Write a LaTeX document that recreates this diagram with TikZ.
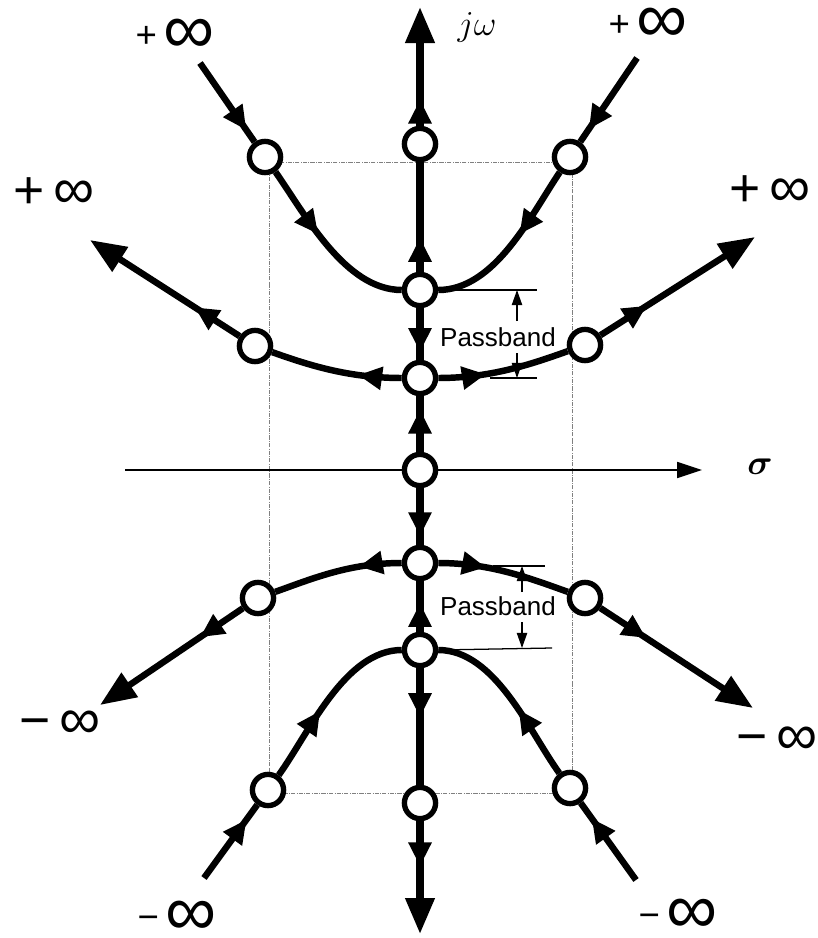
\documentclass[tikz,border=0pt]{standalone}
\usepackage{fontspec, bm}
\setmainfont{Liberation Sans}
\usetikzlibrary{arrows.meta, decorations.markings}
\tikzset{
    pole/.style={circle, draw, fill=white, line width=3.8pt, minimum size=0.78cm,
        inner sep=0pt},
    locus/.style={line width=4.6pt},
    jaxis/.style={line width=5.2pt},
    midtip/.style={decoration={markings, mark=at position #1 with
            {\arrow{Triangle[length=0.6cm, width=0.55cm]}}}, postaction={decorate}},
    endtip/.style={-{Triangle[length=0.9cm, width=0.7cm]}},
    gridline/.style={densely dash dot, gray, line width=0.4pt},
    bandline/.style={line width=0.9pt},
    bandtip/.style={-{Triangle[length=0.38cm, width=0.26cm]}, line width=0.9pt},
    bandtext/.style={font=\fontsize{18.5}{18.5}\selectfont},
    sidelabel/.style={inner sep=0pt, font=\fontsize{38}{38}\selectfont},
    farlabel/.style={inner sep=0pt, font=\fontsize{26}{26}\selectfont},
}
% sign and infinity as printed at the ends of the loci
\newcommand{\sideinf}[1]{#1\,{\fontsize{41}{41}\selectfont ∞}}
\newcommand{\farinf}[1]{\raisebox{4pt}{#1}\,{\fontsize{51}{51}\selectfont ∞}}

\begin{document}
\begin{tikzpicture}[x=0.025cm, y=-0.025cm]
    \useasboundingbox (0,0) rectangle (817,938);

    % guide box and real axis, behind the poles
    \draw[gridline] (269,162) rectangle (572,793);
    \coordinate (sigstart) at (125,470);
    \coordinate (sigend) at (702,470);
    \draw[line width=1pt, -{Triangle[length=0.62cm, width=0.4cm]}]
        (sigstart) -- (sigend);

    % poles on the j-omega axis
    \foreach \name/\y in {a1/144, a2/290, a3/378, a4/470, a5/563, a6/650, a7/803}
        \node[pole] (\name) at (420,\y) {};
    % poles on the branches
    \foreach \name/\x/\y in {p1l/265/157, p1r/570/157, p2l/255/346, p2r/585/345,
            p3l/258/598, p3r/585/598, p4l/268/790, p4r/570/788}
        \node[pole] (\name) at (\x,\y) {};

    \coordinate (top) at (420,7);
    \coordinate (bottom) at (420,934);
    \coordinate (s1l) at (200,63);
    \coordinate (s1r) at (637,58);
    \coordinate (e2l) at (90,240);
    \coordinate (e2r) at (755,237);
    \coordinate (e3l) at (100,705);
    \coordinate (e3r) at (753,708);
    \coordinate (s4l) at (204,878);
    \coordinate (s4r) at (636,880);

    % upper branch, in from +infinity
    \draw[locus, midtip=.85] (s1l) -- (p1l);
    \draw[locus, midtip=.42] (p1l) .. controls (305,214) and (345,290) .. (a2);
    \draw[locus, midtip=.85] (s1r) -- (p1r);
    \draw[locus, midtip=.42] (p1r) .. controls (531,215) and (495,290) .. (a2);

    % branches leaving the axis
    \draw[locus, midtip=.33] (a3) .. controls (350,378) and (311,366) .. (p2l);
    \draw[locus, endtip, midtip=.3] (p2l) -- (e2l);
    \draw[locus, midtip=.36] (a3) .. controls (490,378) and (529,365) .. (p2r);
    \draw[locus, endtip, midtip=.3] (p2r) -- (e2r);
    \draw[locus, midtip=.33] (a5) .. controls (350,563) and (314,578) .. (p3l);
    \draw[locus, endtip, midtip=.3] (p3l) -- (e3l);
    \draw[locus, midtip=.36] (a5) .. controls (490,563) and (529,578) .. (p3r);
    \draw[locus, endtip, midtip=.3] (p3r) -- (e3r);

    % lower branch, in from -infinity
    \draw[locus, midtip=.8] (s4l) -- (p4l);
    \draw[locus, midtip=.42] (p4l) .. controls (309,733) and (345,650) .. (a6);
    \draw[locus, midtip=.8] (s4r) -- (p4r);
    \draw[locus, midtip=.42] (p4r) .. controls (529,731) and (495,650) .. (a6);

    % j-omega axis
    \draw[jaxis, endtip, midtip=.22] (a1) -- (top);
    \foreach \from/\to/\pos in {a2/a1/.31, a2/a3/.85, a4/a3/.76, a4/a5/.85,
            a6/a5/.57, a6/a7/.42}
        \draw[jaxis, midtip=\pos] (\from) -- (\to);
    \draw[jaxis, endtip, midtip=.4] (a7) -- (bottom);

    % passbands
    \draw[bandline] (a2.east) -- (537,290);
    \draw[bandline] (490,378) -- (537,378);
    \node[bandtext] (band1) at (498,337) {Passband};
    \draw[bandtip] (517,321) -- (517,290);
    \draw[bandtip] (517,353) -- (517,378);
    \draw[bandline] (493,566) -- (545,566);
    \draw[bandline] (a6.east) -- (552,648);
    \node[bandtext] (band2) at (498,606) {Passband};
    \draw[bandtip] (522,592) -- (522,566);
    \draw[bandtip] (522,622) -- (522,648);

    % labels
    \node (jw) at (477,27) {\fontsize{30}{30}\selectfont$j\omega$};
    \node (sig) at (760,467) {\fontsize{26}{26}\selectfont$\bm{\sigma}$};
    \node[farlabel] (inf1) at (175,36) {\farinf{+}};
    \node[farlabel] (inf2) at (648,25) {\farinf{+}};
    \node[sidelabel] (inf3) at (54,193) {\sideinf{+}};
    \node[sidelabel] (inf4) at (770,191) {\sideinf{+}};
    \node[sidelabel] (inf5) at (60,725) {\sideinf{−}};
    \node[sidelabel] (inf6) at (777,741) {\sideinf{−}};
    \node[farlabel] (inf7) at (177,918) {\farinf{−}};
    \node[farlabel] (inf8) at (678,916) {\farinf{−}};
\end{tikzpicture}
\end{document}
